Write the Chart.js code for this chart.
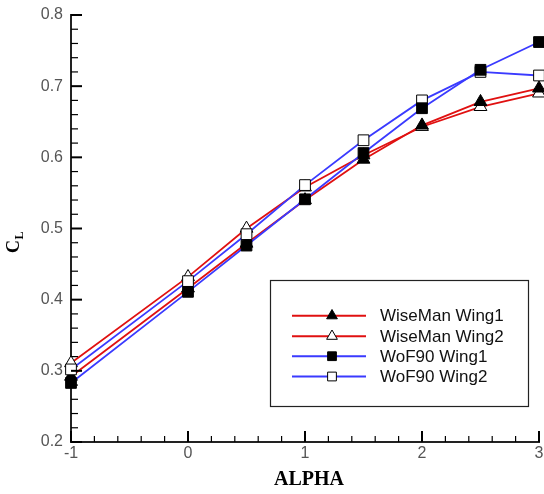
<!DOCTYPE html>
<html>
<head>
<meta charset="utf-8">
<script src="https://cdn.jsdelivr.net/npm/chart.js@4.4.1/dist/chart.umd.min.js"></script>
<style>
  html, body { margin: 0; padding: 0; background: #fff; overflow: hidden; }
  #wrap { width: 544px; height: 494px; }
</style>
</head>
<body>
<div id="wrap"><canvas id="clChart" width="544" height="494"></canvas></div>
<script>
// data
const alpha = [-1, 0, 0.5, 1, 1.5, 2, 2.5, 3];
const wiseManWing1 = [0.292, 0.416, 0.479, 0.540, 0.597, 0.645, 0.678, 0.697];
const wiseManWing2 = [0.311, 0.432, 0.500, 0.558, 0.603, 0.643, 0.671, 0.690];
const wof90Wing1 = [0.283, 0.411, 0.476, 0.541, 0.606, 0.669, 0.723, 0.762];
const wof90Wing2 = [0.302, 0.426, 0.492, 0.561, 0.624, 0.680, 0.720, 0.715];
const seriesNames = ['WiseMan Wing1', 'WiseMan Wing2', 'WoF90 Wing1', 'WoF90 Wing2'];
const xTicks = [-1, 0, 1, 2, 3];
const yTicks = [0.2, 0.3, 0.4, 0.5, 0.6, 0.7, 0.8];

const RED = '#e01010';
const BLUE = '#3a3aff';

function pts(ys) {
    return alpha.map((x, i) => ({ x: x, y: ys[i] }));
}

function makeSet(label, ys, color, style, filled, order) {
    return {
        label: label,
        data: pts(ys),
        borderColor: color,
        borderWidth: 1.8,
        pointStyle: style,
        pointRadius: style === 'rect' ? 7.6 : 7.4,
        pointBackgroundColor: filled ? '#000' : '#fff',
        pointBorderColor: '#000',
        pointBorderWidth: 1,
        fill: false,
        tension: 0,
        order: order
    };
}

// inside ticks (major + minor) on left and bottom axes
const innerTicks = {
    id: 'innerTicks',
    afterDatasetsDraw(chart) {
        const ctx = chart.ctx;
        const xs = chart.scales.x, ys = chart.scales.y;
        const a = chart.chartArea;
        ctx.save();
        ctx.strokeStyle = '#000';
        // x axis
        for (let i = 0; i < xTicks.length; i++) {
            const px = xs.getPixelForValue(xTicks[i]);
            ctx.lineWidth = 2;
            ctx.beginPath(); ctx.moveTo(px, a.bottom); ctx.lineTo(px, a.bottom - 11); ctx.stroke();
            if (i < xTicks.length - 1) {
                const step = (xTicks[i + 1] - xTicks[i]) / 5;
                ctx.lineWidth = 1.2;
                for (let k = 1; k < 5; k++) {
                    const mx = xs.getPixelForValue(xTicks[i] + k * step);
                    ctx.beginPath(); ctx.moveTo(mx, a.bottom); ctx.lineTo(mx, a.bottom - 6); ctx.stroke();
                }
            }
        }
        // y axis
        for (let i = 0; i < yTicks.length; i++) {
            const py = ys.getPixelForValue(yTicks[i]);
            ctx.lineWidth = 2;
            ctx.beginPath(); ctx.moveTo(a.left, py); ctx.lineTo(a.left + 11, py); ctx.stroke();
            if (i < yTicks.length - 1) {
                const step = (yTicks[i + 1] - yTicks[i]) / 5;
                ctx.lineWidth = 1.2;
                for (let k = 1; k < 5; k++) {
                    const my = ys.getPixelForValue(yTicks[i] + k * step);
                    ctx.beginPath(); ctx.moveTo(a.left, my); ctx.lineTo(a.left + 7, my); ctx.stroke();
                }
            }
        }
        ctx.restore();
    }
};

// axis titles: ALPHA and rotated C_L
const axisTitles = {
    id: 'axisTitles',
    afterDraw(chart) {
        const ctx = chart.ctx;
        ctx.save();
        ctx.fillStyle = '#000';
        ctx.font = 'bold 20px "Liberation Serif", "Times New Roman", serif';
        ctx.textAlign = 'center';
        ctx.textBaseline = 'alphabetic';
        ctx.fillText('ALPHA', 309, 485);

        ctx.translate(19, 253);
        ctx.rotate(-Math.PI / 2);
        ctx.textAlign = 'left';
        ctx.font = 'bold 18px "Liberation Serif", "Times New Roman", serif';
        ctx.fillText('C', 0, 0);
        const w = ctx.measureText('C').width;
        ctx.font = 'bold 12px "Liberation Serif", "Times New Roman", serif';
        ctx.fillText('L', w + 0.5, 4);
        ctx.restore();
    }
};

// boxed legend inside the plot
const boxLegend = {
    id: 'boxLegend',
    afterDraw(chart) {
        const ctx = chart.ctx;
        ctx.save();
        ctx.fillStyle = '#fff';
        ctx.fillRect(270, 280, 258, 126);
        ctx.strokeStyle = '#222';
        ctx.lineWidth = 1.2;
        ctx.strokeRect(270.5, 280.5, 258, 126);
        const rows = [315.7, 336.2, 356.2, 376.5];
        chart.data.datasets.forEach((ds, i) => {
            const y = rows[i];
            ctx.strokeStyle = ds.borderColor;
            ctx.lineWidth = 2;
            ctx.beginPath(); ctx.moveTo(292, y); ctx.lineTo(366, y); ctx.stroke();
            ctx.fillStyle = ds.pointBackgroundColor;
            ctx.strokeStyle = '#000';
            ctx.lineWidth = 1;
            Chart.helpers.drawPoint(ctx, {
                pointStyle: ds.pointStyle, radius: 6.2, rotation: 0, borderWidth: 1
            }, 332, y);
            ctx.fillStyle = '#111';
            ctx.font = '17px "Liberation Sans", Arial, sans-serif';
            ctx.textAlign = 'left';
            ctx.textBaseline = 'middle';
            ctx.fillText(ds.label, 380, y + 1);
        });
        ctx.restore();
    }
};

const tickFont = { family: '"Liberation Sans", Arial, sans-serif', size: 16 };

new Chart(document.getElementById('clChart'), {
    type: 'line',
    data: {
        datasets: [
            makeSet(seriesNames[0], wiseManWing1, RED, 'triangle', true, 3),
            makeSet(seriesNames[1], wiseManWing2, RED, 'triangle', false, 4),
            makeSet(seriesNames[2], wof90Wing1, BLUE, 'rect', true, 1),
            makeSet(seriesNames[3], wof90Wing2, BLUE, 'rect', false, 2)
        ]
    },
    options: {
        responsive: false,
        animation: false,
        clip: false,
        layout: { autoPadding: false, padding: { top: 15, right: 5, left: 0, bottom: 0 } },
        plugins: { legend: { display: false }, tooltip: { enabled: false } },
        scales: {
            x: {
                type: 'linear',
                min: -1, max: 3,
                afterBuildTicks: s => { s.ticks = xTicks.map(v => ({ value: v })); },
                afterFit: s => { s.height = 52; s.paddingRight = 5; s.paddingLeft = 0; },
                ticks: { font: tickFont, color: '#555', padding: 2, callback: v => String(v) },
                grid: { display: false, drawTicks: false, tickLength: 0 },
                border: { display: true, color: '#222', width: 2 }
            },
            y: {
                min: 0.2, max: 0.8,
                afterBuildTicks: s => { s.ticks = yTicks.map(v => ({ value: v })); },
                afterFit: s => { s.width = 71; s.paddingTop = 0; s.paddingBottom = 0; },
                ticks: { font: tickFont, color: '#555', padding: 8, callback: v => v.toFixed(1) },
                grid: { display: false, drawTicks: false, tickLength: 0 },
                border: { display: true, color: '#222', width: 2 }
            }
        }
    },
    plugins: [innerTicks, axisTitles, boxLegend]
});
</script>
</body>
</html>
